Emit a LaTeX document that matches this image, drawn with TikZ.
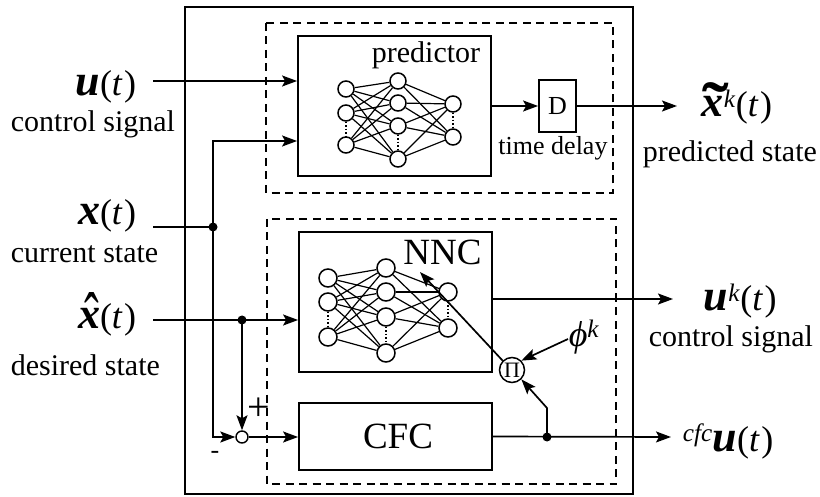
\documentclass[tikz,border=0pt]{standalone}
\usepackage{fontspec}
\usepackage{graphicx}
\setmainfont{Liberation Serif}
\usetikzlibrary{arrows.meta}
% bold italic vector symbols, set a little larger than their arguments
\newcommand\bigsym[1]{{\fontsize{44}{44}\selectfont\textbf{\textit{#1}}}}
\newcommand\vecu{\bigsym{u}}
\newcommand\vecx{\bigsym{x}}
\newcommand\argt{(\textit{t}\kern0.04em)}
% put #1, raised by #2, centred over the box #3
\newcommand\accover[3]{\leavevmode\setbox0\hbox{#3}\rlap{\hbox to\wd0{\hss\raisebox{#2}[0pt][0pt]{#1}\hss}}\box0}
\newcommand\tildevecx{{\fontsize{44}{44}\selectfont
  \accover{\hspace{0.12em}\scalebox{1.8}[1.5]{\textbf{\char"02DC}}}{-0.27em}{\textbf{\textit{x}}}}}
\newcommand\hatvecx{{\fontsize{44}{44}\selectfont
  \accover{\hspace{0.12em}\scalebox{1.0}[1.6]{\char"02C6}}{-0.28em}{\textbf{\textit{x}}}}}
\begin{document}
\begin{tikzpicture}[x=1pt,y=-1pt,
  line width=1.7pt,
  blk/.style={draw, rectangle, line width=1.8pt, inner sep=0pt},
  grp/.style={draw, line width=1.5pt, dash pattern=on 8pt off 5.5pt},
  arr/.style={-{Stealth[length=15pt,width=11pt,inset=3pt]}},
  neuronP/.style={draw, circle, minimum size=16pt, inner sep=0pt, line width=1.5pt},
  neuronN/.style={draw, circle, minimum size=18pt, inner sep=0pt, line width=1.5pt},
  syn/.style={line width=1.2pt},
  omit/.style={line width=1.5pt, dash pattern=on 1.5pt off 2pt},
  dot/.style={circle, fill, inner sep=0pt, minimum size=9pt},
  txt/.style={font=\fontsize{30}{34}\selectfont, inner sep=0pt},
  smalltxt/.style={font=\fontsize{26}{30}\selectfont, inner sep=0pt},
  mlbl/.style={font=\fontsize{36}{40}\selectfont, inner sep=0pt},
  bigtxt/.style={font=\fontsize{37}{40}\selectfont, inner sep=0pt},
]
\useasboundingbox (0,0) rectangle (820,497);

% frame and the two groups
\draw[line width=1.7pt] (185,7) rectangle (633,494);
\draw[grp] (266,23) rectangle (613,193);
\draw[grp] (267,219) rectangle (616,484);

% blocks
\node[blk, minimum width=193pt, minimum height=140pt] (pred) at (394.5,106) {};
\node[txt, anchor=base] (predlbl) at (426,63) {predictor};
\node[blk, minimum width=37pt, minimum height=52pt, smalltxt] (delay) at (557.5,106) {D};
\node[smalltxt, anchor=base] (delaylbl) at (553,155) {time delay};
\node[blk, minimum width=193pt, minimum height=140pt] (nnc) at (395.5,302) {};
\node[bigtxt, anchor=base] (nnclbl) at (442.5,265) {NNC};
\node[blk, minimum width=193pt, minimum height=67pt] (cfc) at (395.5,436.5) {};
\node[bigtxt, anchor=base] (cfclbl) at (398,448) {CFC};
\node[draw, circle, minimum size=12pt, inner sep=0pt, line width=1.4pt] (sum) at (242,437) {};
\node[draw, circle, minimum size=25pt, inner sep=0pt, line width=1.5pt, font=\fontsize{22}{22}\selectfont] (prod) at (512,370) {Π};

% predictor network
\foreach \n/\y in {1/89,2/113,3/145} \node[neuronP] (pa\n) at (346,\y) {};
\foreach \n/\y in {1/81,2/103,3/126,4/159} \node[neuronP] (pb\n) at (398,\y) {};
\foreach \n/\y in {1/104,2/137} \node[neuronP] (pc\n) at (453,\y) {};
\foreach \i in {1,2,3} \foreach \j in {1,...,4} \draw[syn] (pa\i) -- (pb\j);
\foreach \i in {1,...,4} \foreach \j in {1,2} \draw[syn] (pb\i) -- (pc\j);
\draw[omit] (pa2.south) -- (pa3.north);
\draw[omit] (pb3.south) -- (pb4.north);
\draw[omit] (pc1.south) -- (pc2.north);

% controller network
\foreach \n/\y in {1/278,2/302,3/337} \node[neuronN] (na\n) at (328,\y) {};
\foreach \n/\y in {1/268,2/292,3/317,4/353} \node[neuronN] (nb\n) at (386,\y) {};
\foreach \n/\y in {1/292,2/328} \node[neuronN] (nc\n) at (448,\y) {};
\foreach \i in {1,2,3} \foreach \j in {1,...,4} \draw[syn] (na\i) -- (nb\j);
\foreach \i in {1,...,4} \foreach \j in {1,2} \draw[syn] (nb\i) -- (nc\j);
\draw[omit] (na2.south) -- (na3.north);
\draw[omit] (nb3.south) -- (nb4.north);
\draw[omit] (nc1.south) -- (nc2.north);

% input labels
\node[mlbl, anchor=base east] (ulab) at (137,96) {\vecu\argt};
\node[txt, anchor=base west] (usub) at (10,132) {control signal};
\node[mlbl, anchor=base east] (xlab) at (137,225) {\vecx\argt};
\node[txt, anchor=base west] (xsub) at (10,263) {current state};
\node[mlbl, anchor=base east] (xhlab) at (137,329) {\hatvecx\argt};
\node[txt, anchor=base west] (xhsub) at (10,375) {desired state};

% inputs
\coordinate (uin) at (153,81);
\coordinate (xin) at (153,227);
\coordinate (xhin) at (153,320);
\node[dot] (xdot) at (213,227) {};
\node[dot] (xhdot) at (242,320) {};
\draw[arr] (uin) -- (uin -| pred.west);
\draw (xin) -- (xdot.center);
\draw[arr] (xdot.center) |- ([yshift=-35pt]pred.west);
\draw[arr] (xdot.center) |- (sum.west);
\draw[arr] (xhin) -- (xhin -| nnc.west);
\draw[arr] (xhdot.center) -- (sum.north);
\draw[arr] (sum.east) -- (sum.east -| cfc.west);
\node[inner sep=0pt, font=\fontsize{40}{40}\selectfont] (plus) at (259,409) {+};
\node[smalltxt] (minus) at (215,455) {-};

% predictor output
\coordinate (xkout) at (677,106);
\draw[arr] (pred.east) -- (delay.west);
\draw[arr] (delay.east) -- (xkout);
\node[mlbl, anchor=base west] (xklab) at (701,117) {\tildevecx\textsuperscript{\textit{k}}\argt};
\node[txt, anchor=base west] (xksub) at (642,162) {predicted state};

% controller output
\coordinate (ukout) at (673,299);
\draw[arr] (ukout -| nnc.east) -- (ukout);
\node[mlbl, anchor=base west] (uklab) at (703,311) {\vecu\textsuperscript{\textit{k}}\argt};
\node[txt, anchor=base west] (uksub) at (648,347) {control signal};

% classical controller output and the product feedback
\coordinate (cfcout) at (671,437);
\node[dot] (tap) at (547,437) {};
\draw[arr] (cfc.east) -- (cfcout);
\node[mlbl, anchor=base west] (cfclab) at (682,451) {\textsuperscript{\textit{cfc}}\vecu\argt};
\draw[arr] (tap.center) -- ++(0,-29) -- (prod.south east);
\coordinate (phitail) at (568,339);
\draw[arr] (phitail) -- (prod.north east);
\node[mlbl, anchor=base west] (philab) at (568,347) {\textit{ϕ}\textsuperscript{\textit{k}}};
\coordinate (nnctip) at (420,272);
\draw[arr] (prod.north west) -- (nnctip);
\end{tikzpicture}
\end{document}
